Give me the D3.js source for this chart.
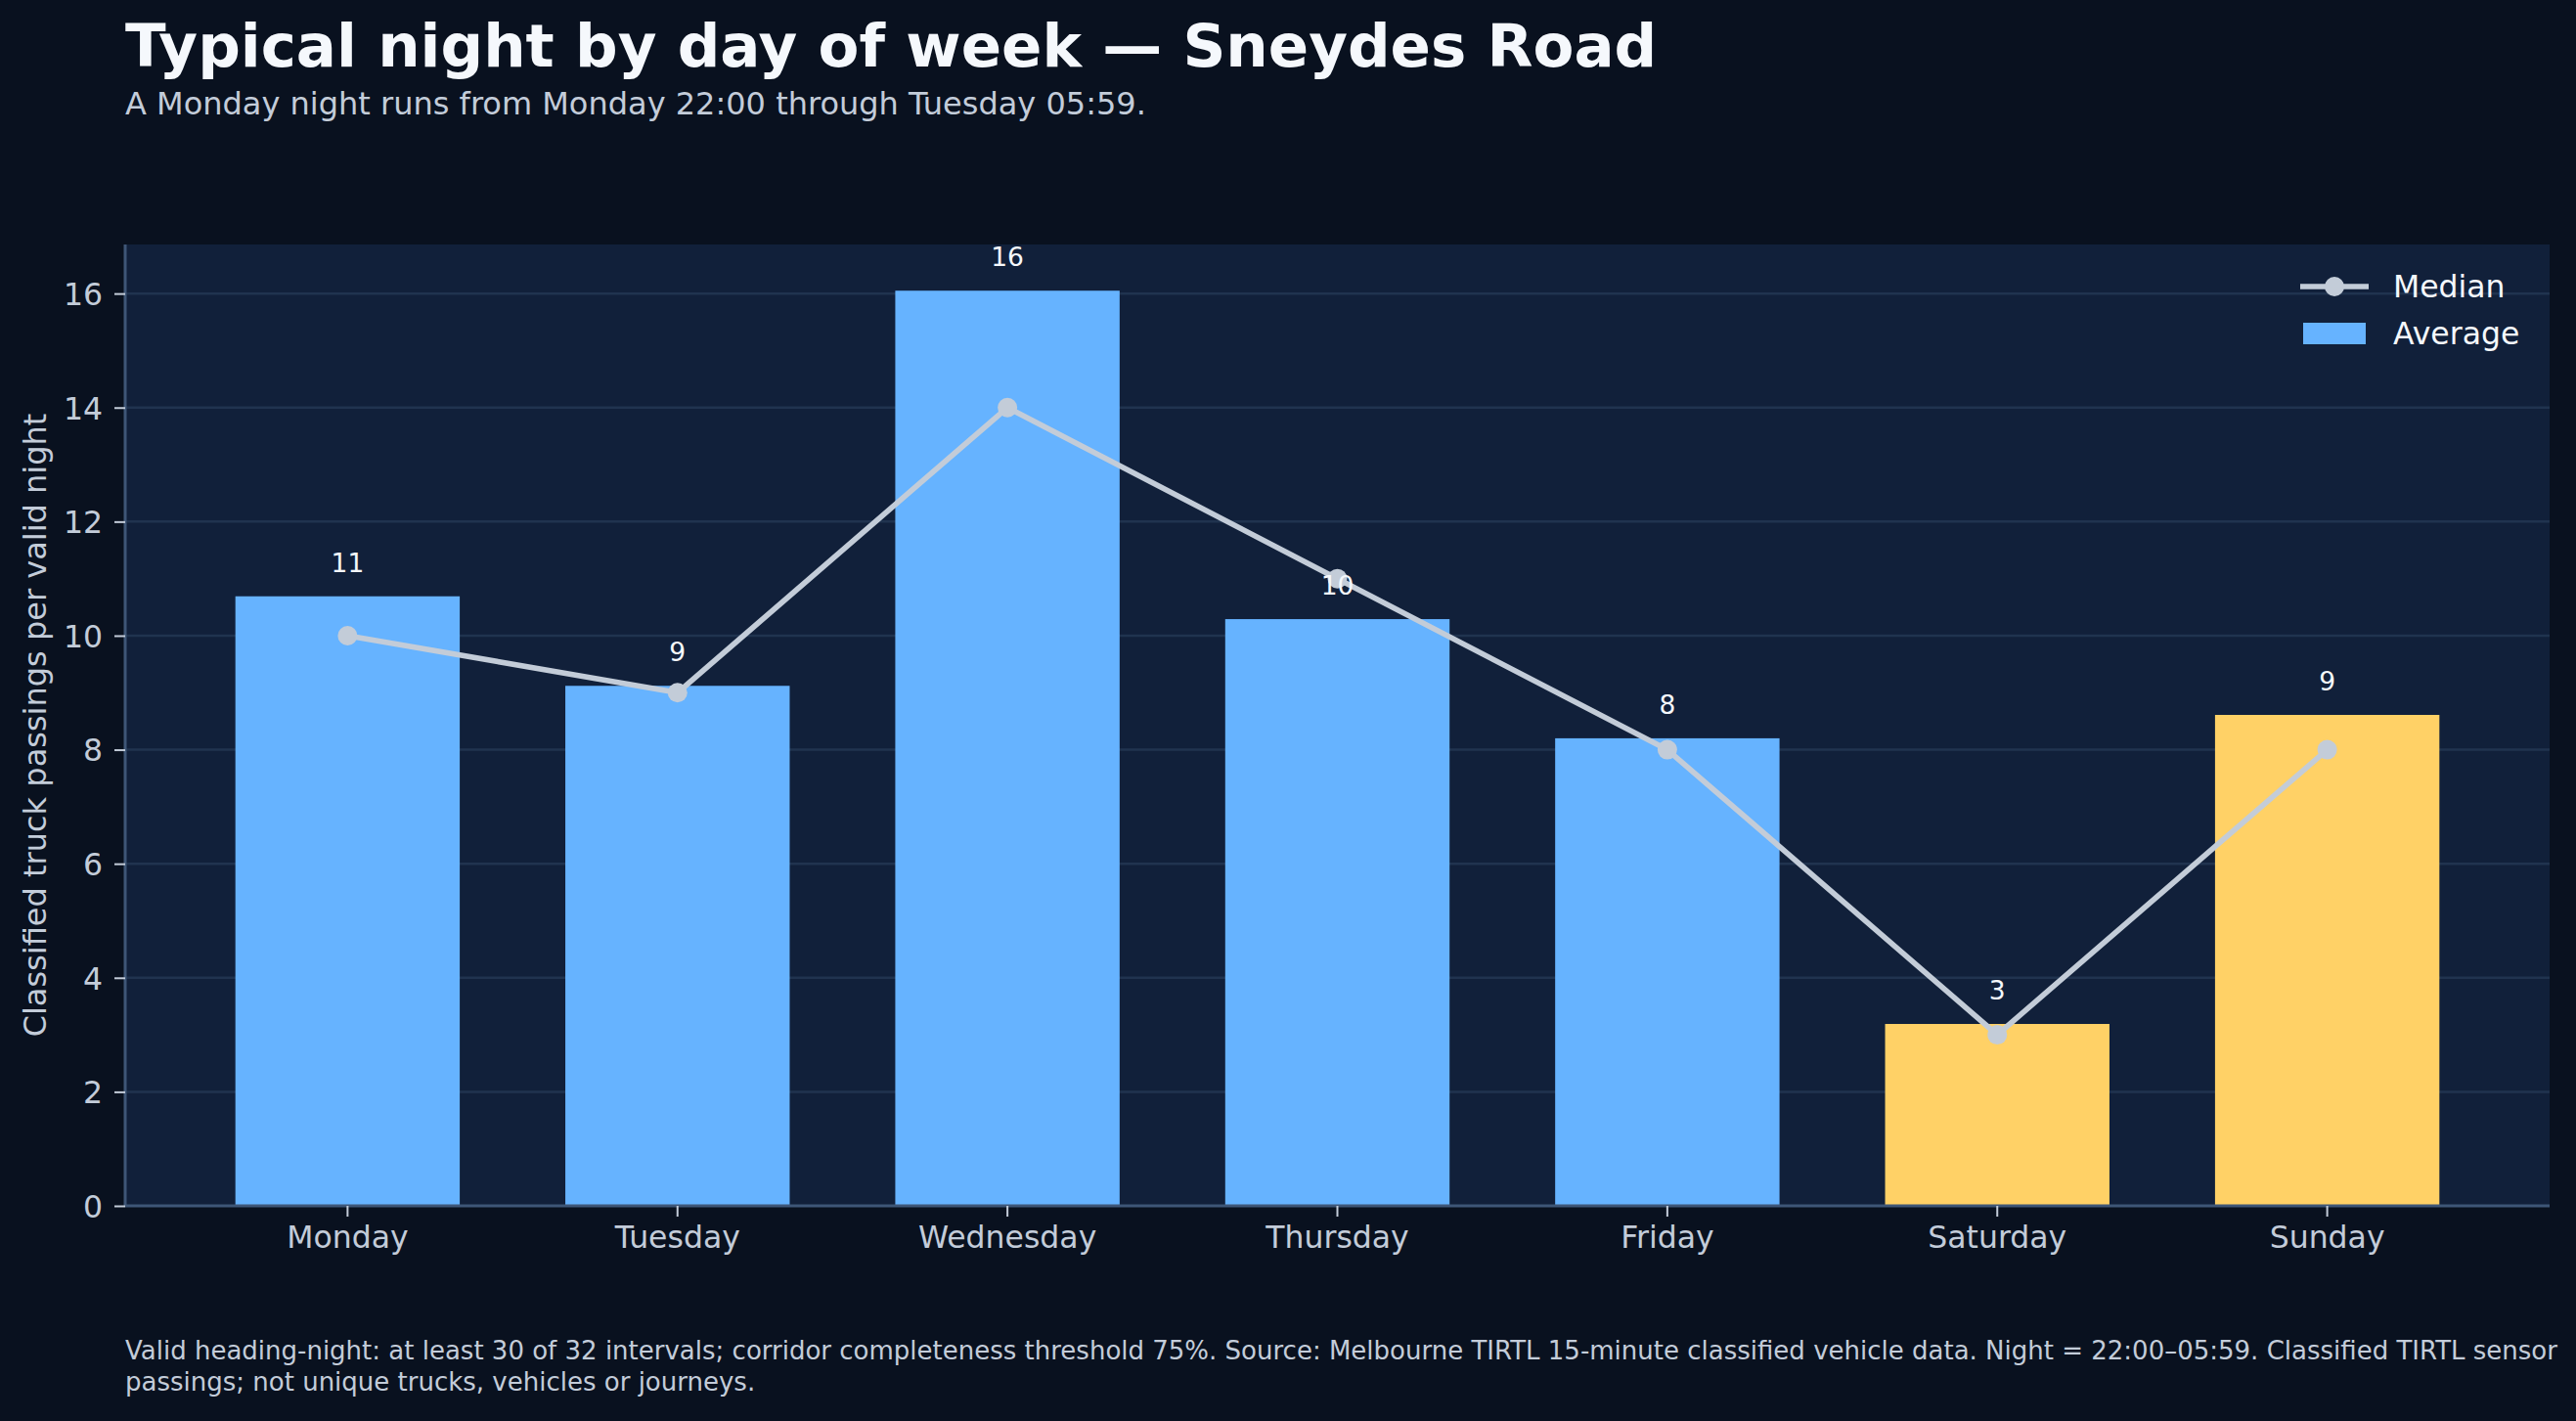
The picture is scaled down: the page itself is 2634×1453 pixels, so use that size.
<!DOCTYPE html>
<html>
<head>
<meta charset="utf-8">
<script src="https://cdn.jsdelivr.net/npm/d3@7"></script>
<style>
  html, body { margin: 0; padding: 0; background: #09111f; }
  svg { display: block; font-family: "DejaVu Sans", sans-serif; }
</style>
</head>
<body>
<svg id="chart" width="2634" height="1453"></svg>
<script>
// values
var days = ["Monday", "Tuesday", "Wednesday", "Thursday", "Friday", "Saturday", "Sunday"];
var averageNightly = [10.69, 9.12, 16.05, 10.29, 8.20, 3.19, 8.61];
var medianNightly = [10, 9, 14, 11, 8, 3, 8];
var weekendDays = ["Saturday", "Sunday"];
var yTicks = [0, 2, 4, 6, 8, 10, 12, 14, 16];

var W = 2634, H = 1453;
var plot = { left: 128, right: 2607, top: 250, bottom: 1233 };

var colors = {
  page: "#09111f",
  panel: "#11203a",
  grid: "#20334f",
  spine: "#3e5677",
  text: "#c3ccd9",
  white: "#f5f8fc",
  weekday: "#66b3ff",
  weekend: "#ffd166",
  median: "#c3ccd8"
};

var svg = d3.select("#chart");

svg.append("rect").attr("width", W).attr("height", H).attr("fill", colors.page);

// title + subtitle
svg.append("text")
   .attr("x", 128).attr("y", 68)
   .attr("fill", colors.white)
   .style("font-size", "61px").style("font-weight", "bold")
   .text("Typical night by day of week \u2014 Sneydes Road");

svg.append("text")
   .attr("x", 128).attr("y", 117)
   .attr("fill", colors.text)
   .style("font-size", "32px")
   .text("A Monday night runs from Monday 22:00 through Tuesday 05:59.");

// scales
var x = d3.scaleBand()
    .domain(days)
    .range([plot.left, plot.right])
    .paddingInner(0.32)
    .paddingOuter(0.334);

var y = d3.scaleLinear()
    .domain([0, 16.86])
    .range([plot.bottom, plot.top]);

// panel background
svg.append("rect")
   .attr("x", plot.left).attr("y", plot.top)
   .attr("width", plot.right - plot.left)
   .attr("height", plot.bottom - plot.top)
   .attr("fill", colors.panel);

// gridlines
svg.append("g")
   .selectAll("line")
   .data(yTicks.filter(function(d) { return d > 0; }))
   .enter().append("line")
   .attr("x1", plot.left).attr("x2", plot.right)
   .attr("y1", function(d) { return y(d); })
   .attr("y2", function(d) { return y(d); })
   .attr("stroke", colors.grid)
   .attr("stroke-width", 2.5);

// bars (average)
svg.append("g")
   .selectAll("rect")
   .data(days)
   .enter().append("rect")
   .attr("x", function(d) { return x(d); })
   .attr("width", x.bandwidth())
   .attr("y", function(d, i) { return y(averageNightly[i]); })
   .attr("height", function(d, i) { return y(0) - y(averageNightly[i]); })
   .attr("fill", function(d) {
     return weekendDays.indexOf(d) >= 0 ? colors.weekend : colors.weekday;
   });

// axes
var yAxis = d3.axisLeft(y).tickValues(yTicks).tickSize(11).tickPadding(12);
var gy = svg.append("g")
   .attr("transform", "translate(" + plot.left + ",0)")
   .call(yAxis);

var xAxis = d3.axisBottom(x).tickSize(11).tickPadding(10);
var gx = svg.append("g")
   .attr("transform", "translate(0," + plot.bottom + ")")
   .call(xAxis);

[gx, gy].forEach(function(g) {
  g.select(".domain").attr("stroke", colors.spine).attr("stroke-width", 3);
  g.selectAll(".tick line").attr("stroke", colors.text).attr("stroke-width", 2);
  g.selectAll(".tick text")
   .attr("fill", colors.text)
   .style("font-size", "31.5px")
   .style("font-family", "DejaVu Sans, sans-serif");
});
gy.select(".domain").attr("d", "M0," + plot.top + "V" + plot.bottom);
gy.selectAll(".tick text").attr("dy", "0.36em");
gx.select(".domain").attr("d", "M" + plot.left + ",0H" + plot.right);

// y axis title
svg.append("text")
   .attr("transform", "translate(47," + ((plot.top + plot.bottom) / 2) + ") rotate(-90)")
   .attr("text-anchor", "middle")
   .attr("fill", colors.text)
   .style("font-size", "32px")
   .text("Classified truck passings per valid night");

// median line
var line = d3.line()
    .x(function(d, i) { return x(days[i]) + x.bandwidth() / 2; })
    .y(function(d) { return y(d); });

svg.append("path")
   .datum(medianNightly)
   .attr("d", line)
   .attr("fill", "none")
   .attr("stroke", colors.median)
   .attr("stroke-width", 5.6)
   .attr("stroke-linejoin", "round");

svg.append("g")
   .selectAll("circle")
   .data(medianNightly)
   .enter().append("circle")
   .attr("cx", function(d, i) { return x(days[i]) + x.bandwidth() / 2; })
   .attr("cy", function(d) { return y(d); })
   .attr("r", 10)
   .attr("fill", colors.median);

// value labels on bars
svg.append("g")
   .selectAll("text")
   .data(averageNightly)
   .enter().append("text")
   .attr("x", function(d, i) { return x(days[i]) + x.bandwidth() / 2; })
   .attr("y", function(d) { return y(d) - 25; })
   .attr("text-anchor", "middle")
   .attr("fill", colors.white)
   .style("font-size", "26.5px")
   .text(function(d) { return Math.round(d); });

// legend
var legend = svg.append("g").attr("transform", "translate(2352,0)");
legend.append("line")
   .attr("x1", 0).attr("x2", 70).attr("y1", 293).attr("y2", 293)
   .attr("stroke", colors.median).attr("stroke-width", 5.6);
legend.append("circle")
   .attr("cx", 35).attr("cy", 293).attr("r", 10).attr("fill", colors.median);
legend.append("text")
   .attr("x", 95).attr("y", 304)
   .attr("fill", colors.white).style("font-size", "31.5px")
   .text("Median");
legend.append("rect")
   .attr("x", 3).attr("y", 330).attr("width", 64).attr("height", 22)
   .attr("fill", colors.weekday);
legend.append("text")
   .attr("x", 95).attr("y", 352)
   .attr("fill", colors.white).style("font-size", "31.5px")
   .text("Average");

// footnote
var foot = svg.append("text")
   .attr("x", 128).attr("y", 1390)
   .attr("fill", colors.text)
   .style("font-size", "26px");
foot.append("tspan").attr("x", 128)
   .text("Valid heading-night: at least 30 of 32 intervals; corridor completeness threshold 75%. Source: Melbourne TIRTL 15-minute classified vehicle data. Night = 22:00\u201305:59. Classified TIRTL sensor");
foot.append("tspan").attr("x", 128).attr("dy", 31.7)
   .text("passings; not unique trucks, vehicles or journeys.");
</script>
</body>
</html>
